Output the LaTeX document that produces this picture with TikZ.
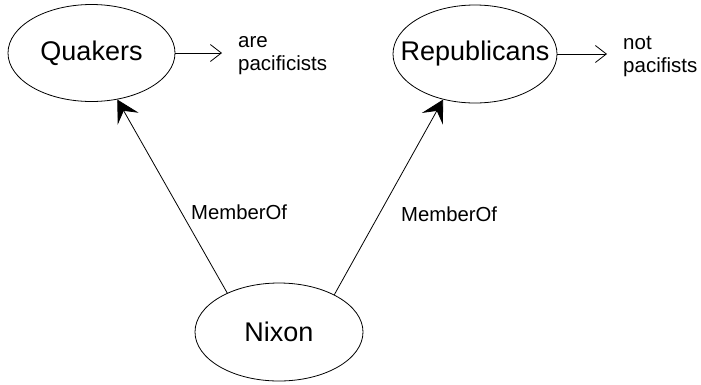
\documentclass[tikz,border=0pt]{standalone}
\usepackage{fontspec}
\setmainfont{Liberation Sans}
\usetikzlibrary{shapes.geometric,arrows.meta}
\begin{document}
\begin{tikzpicture}[x=1pt,y=-1pt,
  concept/.style={draw, ellipse, line width=0.8pt, inner sep=0pt,
    font=\fontsize{27}{30}\selectfont},
  note/.style={anchor=west, align=left, inner sep=0pt,
    font=\fontsize{20.5}{23}\selectfont},
  rel/.style={anchor=west, inner sep=0pt, font=\fontsize{20.3}{23}\selectfont},
  member/.style={line width=0.8pt, -{Stealth[length=22pt, width=24pt, inset=9pt]}},
  implies/.style={line width=0.8pt, -{Straight Barb[length=11pt, width=17pt, line width=0.8pt]}}]
\useasboundingbox (0,0) rectangle (701,384);

% the three classes
\node[concept, minimum width=167pt, minimum height=97pt] (Q) at (91.5,53)
  {\makebox[0pt]{Quakers}};
\node[concept, minimum width=164pt, minimum height=98pt] (R) at (475,54)
  {\makebox[0pt]{Republicans}};
\node[concept, minimum width=168pt, minimum height=98pt] (N) at (279,332)
  {\makebox[0pt]{Nixon}};

% consequences
\node[note] (qn) at (238,56) {are\\pacificists};
\node[note] (rn) at (623,56) {not\\pacifists};
\coordinate (qa) at (222,53);
\coordinate (ra) at (607,54);
\draw[implies] (Q.east) -- (qa);
\draw[implies] (R.east) -- (ra);

% membership links
\draw[member] (N.143) -- (Q.-61);
\draw[member] (N.34) -- (R.235);
\node[rel] (m1) at (191,212) {MemberOf};
\node[rel] (m2) at (401,214) {MemberOf};
\end{tikzpicture}
\end{document}
